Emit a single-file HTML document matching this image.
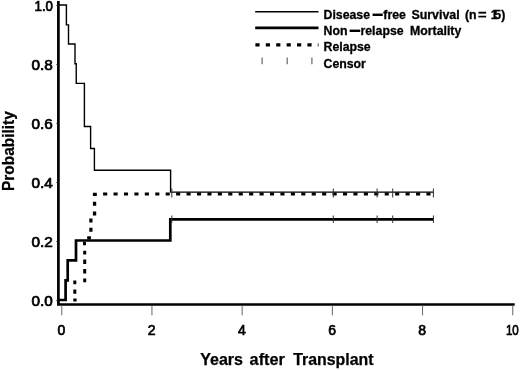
<!DOCTYPE html>
<html><head><meta charset="utf-8"><title>Survival</title>
<style>
html,body{margin:0;padding:0;background:#fff}
svg{display:block}
text{font-family:"Liberation Sans",sans-serif;font-weight:bold;fill:#000}
.t{font-size:14px;font-weight:normal;stroke:#000;stroke-width:.7px}
.l{font-size:12.3px;stroke:#000;stroke-width:.3px}
.h{font-size:20px}
.a{font-size:16px;stroke:#000;stroke-width:.25px}
</style></head><body>
<svg width="520" height="370" viewBox="0 0 520 370">
<rect width="520" height="370" fill="#fff"/>
<path d="M58.4 1V304.5H514.7" fill="none" stroke="#000" stroke-width="2.7" stroke-linejoin="miter"/>
<path d="M56.4 300.50H58" stroke="#222" stroke-width="1"/>
<text class="t" x="31.6" y="306.1" textLength="21.3" lengthAdjust="spacingAndGlyphs">0.0</text>
<path d="M56.4 241.50H58" stroke="#222" stroke-width="1"/>
<text class="t" x="31.6" y="247.1" textLength="21.3" lengthAdjust="spacingAndGlyphs">0.2</text>
<path d="M56.4 182.50H58" stroke="#222" stroke-width="1"/>
<text class="t" x="31.6" y="188.1" textLength="21.3" lengthAdjust="spacingAndGlyphs">0.4</text>
<path d="M56.4 123.50H58" stroke="#222" stroke-width="1"/>
<text class="t" x="31.6" y="129.1" textLength="21.3" lengthAdjust="spacingAndGlyphs">0.6</text>
<path d="M56.4 64.50H58" stroke="#222" stroke-width="1"/>
<text class="t" x="31.6" y="70.1" textLength="21.3" lengthAdjust="spacingAndGlyphs">0.8</text>
<path d="M56.4 5.50H58" stroke="#222" stroke-width="1"/>
<text class="t" x="34.5" y="11.1" textLength="18.5" lengthAdjust="spacingAndGlyphs">1.0</text>
<path d="M61.75 305V315.3" stroke="#555" stroke-width="0.9"/>
<text class="t" x="61.45" y="335.3" text-anchor="middle">0</text>
<path d="M151.95 305V315.3" stroke="#555" stroke-width="0.9"/>
<text class="t" x="151.65" y="335.3" text-anchor="middle">2</text>
<path d="M242.15 305V315.3" stroke="#555" stroke-width="0.9"/>
<text class="t" x="241.85" y="335.3" text-anchor="middle">4</text>
<path d="M332.35 305V315.3" stroke="#555" stroke-width="0.9"/>
<text class="t" x="332.05" y="335.3" text-anchor="middle">6</text>
<path d="M422.55 305V315.3" stroke="#555" stroke-width="0.9"/>
<text class="t" x="422.25" y="335.3" text-anchor="middle">8</text>
<path d="M512.75 305V315.3" stroke="#555" stroke-width="0.9"/>
<text class="t" x="505.9" y="335.3" textLength="12.9" lengthAdjust="spacingAndGlyphs">10</text>
<text class="a" x="200.2" y="365">Years</text>
<text class="a" x="249.6" y="365" textLength="35.3" lengthAdjust="spacingAndGlyphs">after</text>
<text class="a" x="293.2" y="365" textLength="80.3" lengthAdjust="spacingAndGlyphs">Transplant</text>
<text class="a" transform="translate(14.4 190.9) rotate(-90)" textLength="79.6" lengthAdjust="spacingAndGlyphs">Probability</text>
<path d="M59 5 L66.4 5 L66.4 24.9 L68.5 24.9 L68.5 44 L75 44 L75 63.75 L76.25 63.75 L76.25 83.4 L84.4 83.4 L84.4 126.5 L90.6 126.5 L90.6 148.5 L94.4 148.5 L94.4 170.3 L170.6 170.3 L170.6 192.1 L433.5 192.1" fill="none" stroke="#000" stroke-width="1.4"/>
<path d="M59 300 L65.6 300 L65.6 280.4 L67.7 280.4 L67.7 260.4 L76 260.4 L76 240.5 L170.3 240.5 L170.3 219.3 L433.5 219.3" fill="none" stroke="#000" stroke-width="2.7"/>
<path d="M73.3 298.4H76.6V301.5H73.3ZM73.3 289.5H76.3V293.7H73.3ZM73.3 280.5H76.3V284.2H73.3ZM83.2 278.6H86.2V282.3H83.2ZM83.2 269.1H86.2V273.5H83.2ZM83.2 259.6H86.2V264H83.2ZM83.2 250.8H86.2V254.5H83.2ZM83.0 241.7H86.0V245.2H83.0ZM87.2 236.3H90.9V239.5H87.2ZM89.3 227.8H92.5V231.7H89.3ZM89.3 218.4H92.5V222.5H89.3ZM92.9 211.5H96.2V215.5H92.9ZM92.9 201.7H96.2V205.8H92.9ZM92.9 192.8H96.8V196H92.9Z" fill="#000"/>
<path d="M103.1 194H433.5" fill="none" stroke="#000" stroke-width="2.9" stroke-dasharray="4.1 6.33"/>
<path d="M171.8 188.5V197.5M171.8 215.5V223" stroke="#333" stroke-width="1"/>
<path d="M333.3 188.5V197.5M333.3 215.5V223" stroke="#333" stroke-width="1"/>
<path d="M377.1 188.5V197.5M377.1 215.5V223" stroke="#333" stroke-width="1"/>
<path d="M392.7 188.5V197.5M392.7 215.5V223" stroke="#333" stroke-width="1"/>
<path d="M433.4 188.5V197.5M433.4 215.5V223" stroke="#333" stroke-width="1"/>
<path d="M255.2 11.7H318.5" stroke="#000" stroke-width="1.5"/>
<path d="M255.2 27.8H318.5" stroke="#000" stroke-width="2.8"/>
<path d="M255.4 44.9H318.5" stroke="#000" stroke-width="3.1" stroke-dasharray="4.2 6.2"/>
<path d="M262.1 57.5V64.3M287.2 57.5V64.3M311.9 57.5V64.3" stroke="#666" stroke-width="1.2"/>
<text class="l" x="323.5" y="19">Disease</text>
<text class="h" x="371.0" y="20.0" textLength="13.4" lengthAdjust="spacingAndGlyphs">-</text>
<text class="l" x="383.3" y="19">free</text>
<text class="l" x="411.4" y="19" textLength="48.3" lengthAdjust="spacingAndGlyphs">Survival</text>
<text class="l" x="465" y="19">(n</text>
<text class="l" x="478" y="19" textLength="8.6" lengthAdjust="spacingAndGlyphs">=</text>
<text class="l" x="490.8 494.3" y="19">15</text>
<text class="l" x="501.2" y="19">)</text>
<text class="l" x="323.5" y="35.2">Non</text>
<text class="h" x="347.9" y="36.2" textLength="13.9" lengthAdjust="spacingAndGlyphs">-</text>
<text class="l" x="360.5" y="35.2">relapse</text>
<text class="l" x="410" y="35.2">Mortality</text>
<text class="l" x="323.5" y="51.4">Relapse</text>
<text class="l" x="323.5" y="67.8">Censor</text>
</svg>
</body></html>
